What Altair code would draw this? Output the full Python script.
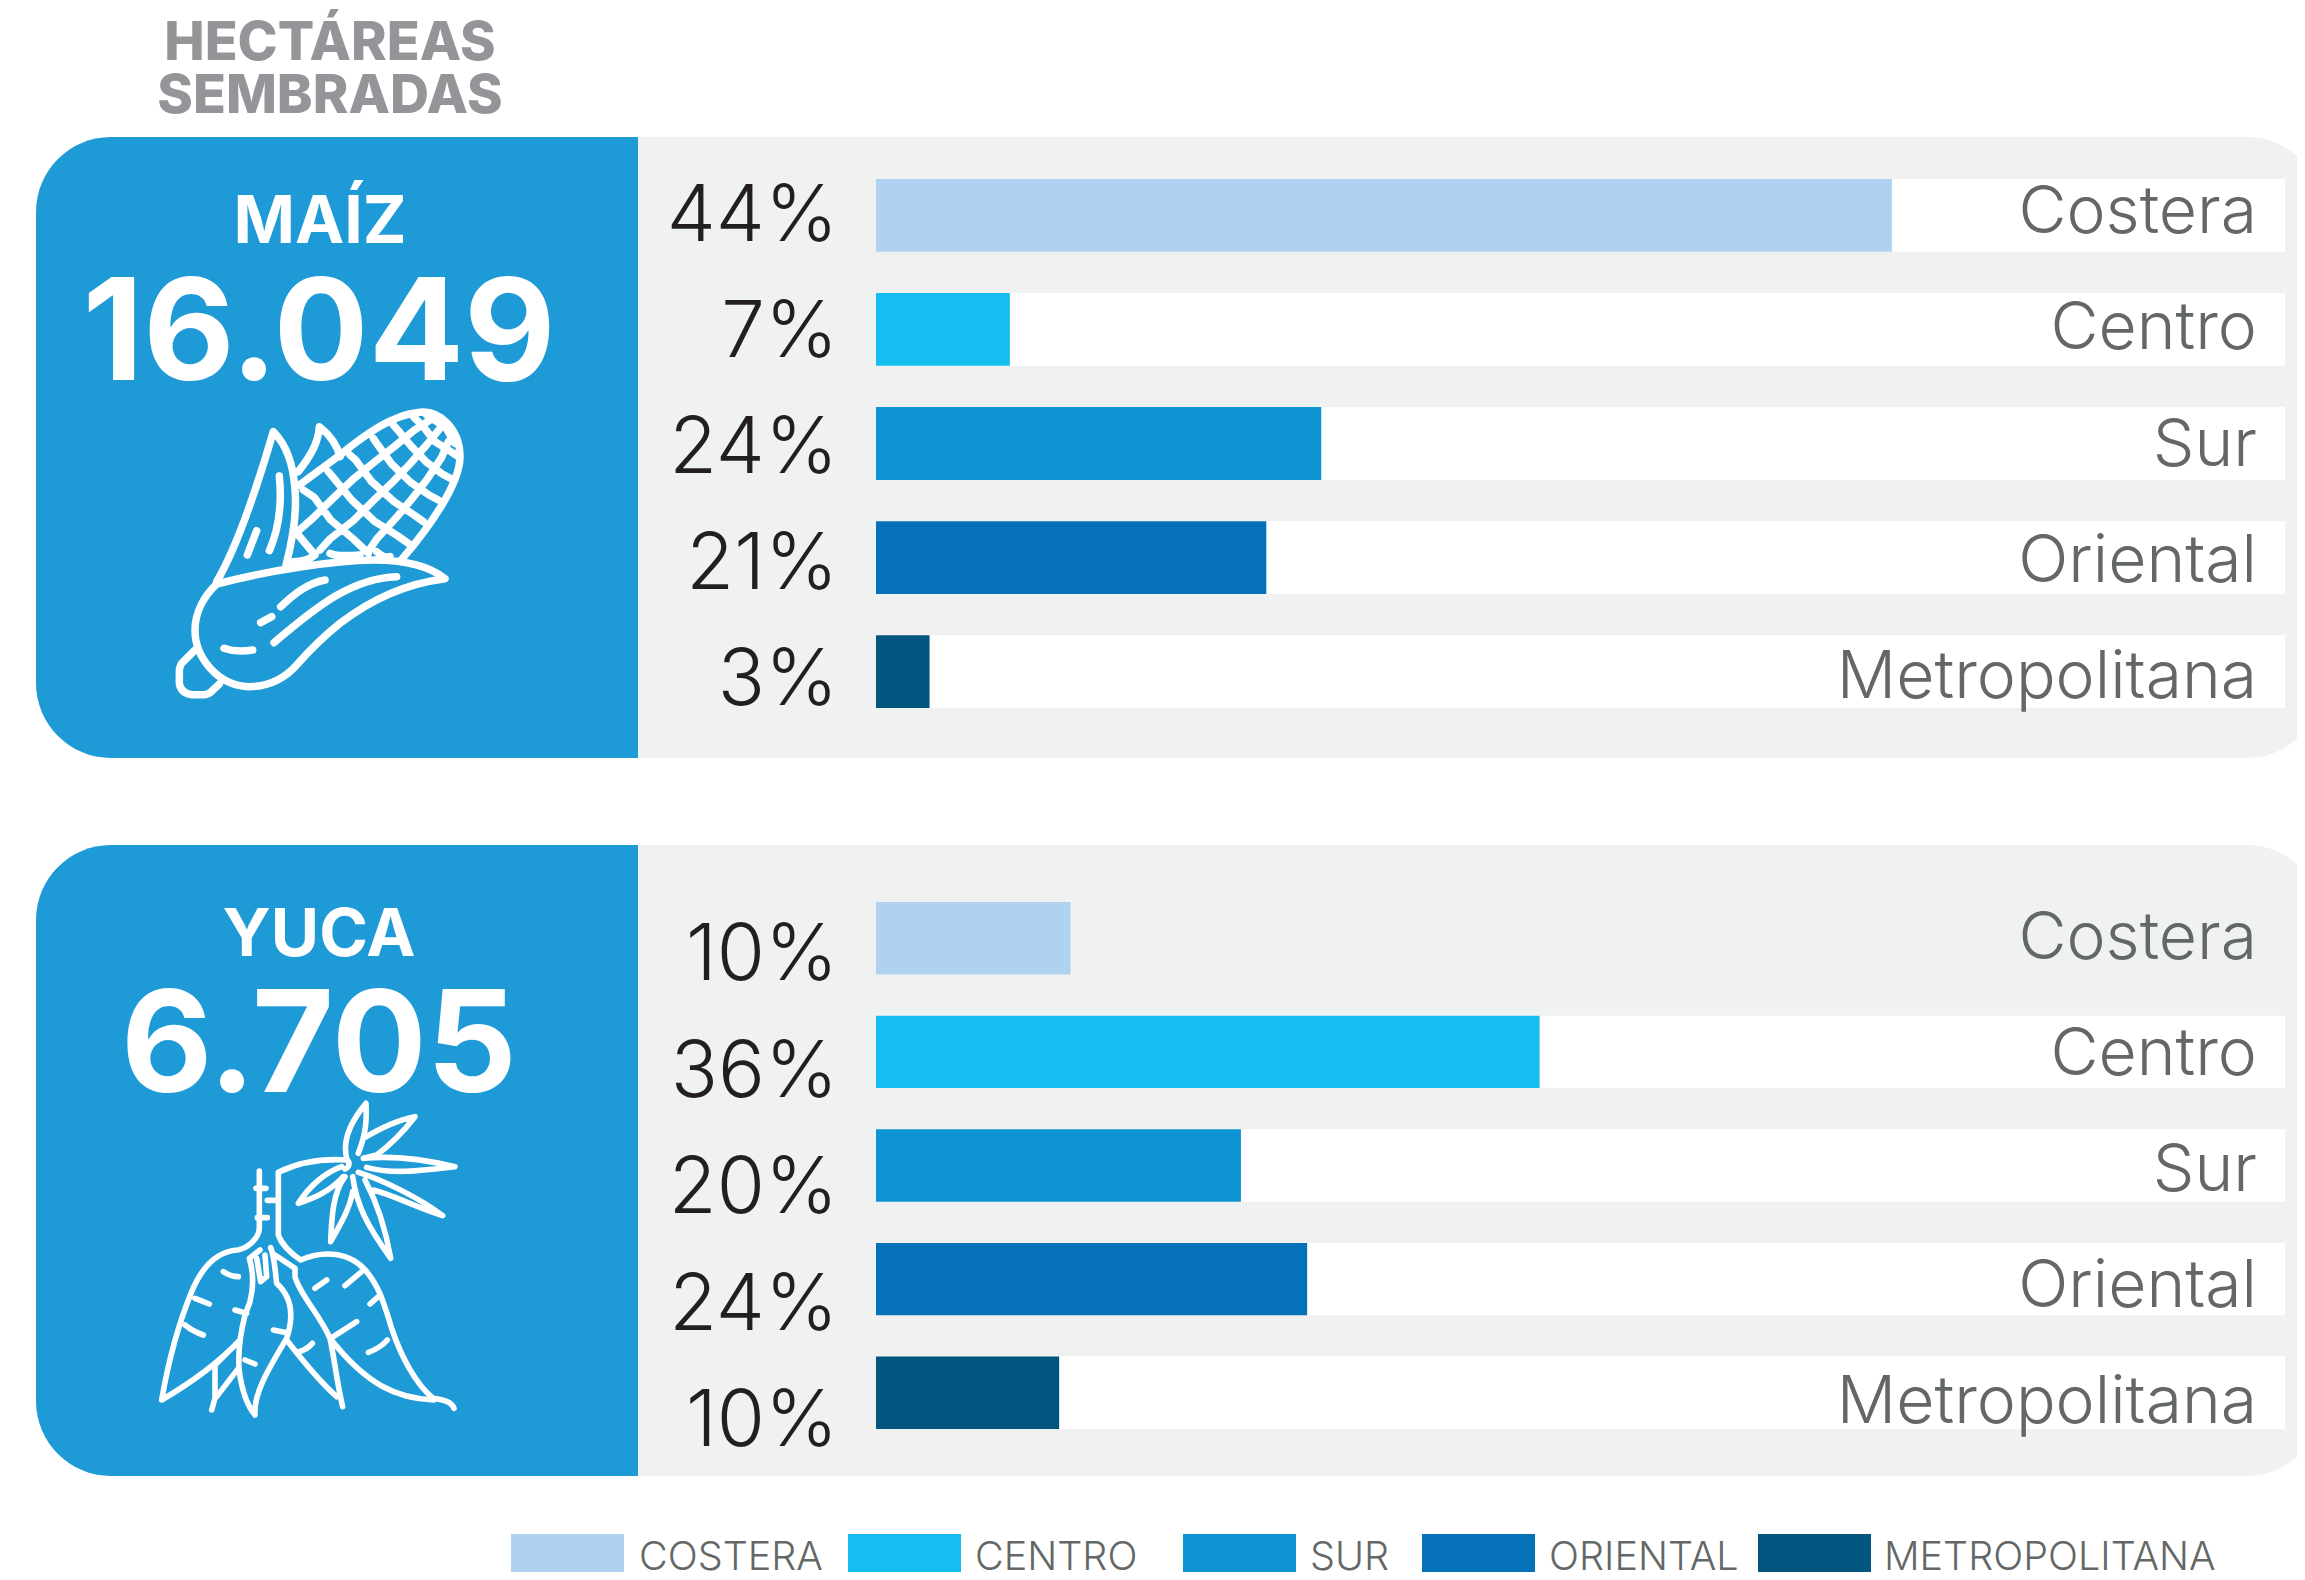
import altair as alt
import pandas as pd

# ---------- data ----------
REGIONS = ["Costera", "Centro", "Sur", "Oriental", "Metropolitana"]
LEGEND_LABELS = ["COSTERA", "CENTRO", "SUR", "ORIENTAL", "METROPOLITANA"]
COLORS = ["#AED2EF", "#16BDF0", "#0E93D3", "#0571B9", "#01557F"]
MAIZ_LABELS = ["44%", "7%", "24%", "21%", "3%"]
YUCA_LABELS = ["10%", "36%", "20%", "24%", "10%"]
# Bar lengths as drawn in the reference (share of the white track, in %);
# the reference's bars are not proportional to their printed labels.
MAIZ_BARS = [72.1, 9.5, 31.6, 27.7, 3.8]
YUCA_BARS = [13.8, 47.1, 25.9, 30.6, 13.0]
YUCA_TRACKS = ["Centro", "Sur", "Oriental", "Metropolitana"]
MAIZ_TRACKS = REGIONS

# ---------- layout (page pixels) ----------
M = 8
def p(v):
    return v - M
def pr(a, b):
    return [p(a), p(b)]

FONT = "Inter"
BLUE = "#1E9AD6"
GRAY = "#F0F2F1"
TRACK_X = (876, 2285)
BAR_H_PAD = 0.362
LEG_X = [511, 848, 1183, 1422, 1758]
LEG_W = 113
LEG_TX = [639, 975, 1310, 1549, 1884]

CORN = " ".join([
    "M170 552 C330 510 520 482 640 480 C740 480 810 500 855 536 C760 548 650 585 540 670 C490 710 450 750 410 795 C370 840 320 860 265 860 C170 855 105 770 105 690 C105 640 130 590 170 552 Z",
    "M105 750 L70 785 Q58 795 58 815 L58 850 Q62 880 95 884 L130 884 Q145 884 155 874 L178 852",
    "M170 545 C220 460 280 300 340 95 C375 130 400 190 405 270 C412 350 395 430 378 495",
    "M415 215 C450 170 475 130 478 80 C510 105 530 130 540 170",
    "M418 255 L540 165 C620 100 700 45 770 38 C840 25 900 90 900 170 C900 250 810 380 725 478",
    "M418 390 L458 355 L517 297 L580 237 L642 187 L705 138 L762 91 L810 60",
    "M480 450 L512 415 L580 362 L640 302 L697 247 L750 192 L802 132 L840 85",
    "M625 455 L650 417 L707 355 L757 295 L802 237 L845 172 L865 125",
    "M430 270 L463 292 L512 360 L580 417 L625 460",
    "M505 215 L522 235 L575 300 L645 365 L712 407 L745 430",
    "M570 165 L587 180 L635 245 L702 305 L762 345 L790 365",
    "M640 115 L652 133 L695 192 L752 247 L807 285 L835 300",
    "M700 75 L715 92 L752 137 L800 187 L847 222 L880 240",
    "M760 50 L790 80 L825 125 L865 150 L895 170",
    "M800 45 L870 90 M850 70 L885 130",
    "M415 405 L465 465 Q440 485 400 485",
    "M510 460 Q530 470 600 465 M650 455 Q670 475 690 470",
    "M358 228 C365 300 360 380 328 452",
    "M290 392 L262 465",
    "M495 540 C440 550 400 585 362 620",
    "M710 530 C580 535 480 610 342 728",
    "M335 650 L302 668",
    "M192 745 C220 755 250 755 278 750",
])

YUCA_ICON = " ".join([
    "M328 228 L328 400 C328 430 290 462 262 465 C190 470 150 530 125 590 C80 700 55 800 35 915 C120 865 200 810 270 735",
    "M318 280 L348 280 M352 316 L385 316 M322 368 L352 368",
    "M385 232 L385 420 C395 450 430 480 452 495 C520 465 600 470 650 530 C690 580 700 620 725 700 C755 790 800 870 850 910 C880 915 905 920 912 940",
    "M850 915 C740 910 650 870 540 730",
    "M385 232 C440 205 510 190 590 195 C600 200 600 215 585 222",
    "M590 190 C575 130 610 70 648 25 C650 70 650 110 625 175",
    "M640 130 C690 100 740 75 795 65 C760 110 720 150 680 180 L640 190",
    "M640 190 C740 180 830 195 915 215 C830 225 730 240 650 217",
    "M625 232 C700 255 810 310 878 362 C780 330 730 300 670 285",
    "M608 245 C620 330 650 390 722 490 C710 420 690 340 645 255",
    "M585 245 C550 290 545 360 542 440 C570 390 600 340 608 290",
    "M575 215 C530 230 480 270 445 325 C490 310 540 290 580 245",
    "M330 465 L298 490 C310 530 310 580 300 620 L285 660 C275 700 262 770 268 830 C275 880 290 930 315 960 C310 900 350 830 410 730 C430 670 430 610 380 565 C375 530 375 490 362 458",
    "M320 490 L332 560 L350 545 L345 480",
    "M375 480 L435 520 L435 545 C450 600 510 660 540 730 C555 800 560 860 578 935",
    "M410 735 C460 800 510 860 560 905",
    "M195 810 L195 910 L185 945 M265 820 L200 905 M195 810 L270 735",
    "M220 530 C235 540 245 545 265 545 M135 610 L178 627 M105 690 Q130 710 160 720",
    "M255 645 L290 655 M370 705 L410 713 M285 795 L315 807 M445 770 Q470 765 487 745",
    "M495 580 L530 555 M585 572 L635 530 M660 627 L685 605 M550 725 L620 680 M655 772 Q690 760 712 735",
])

one = pd.DataFrame({"k": [0]})
region_color = alt.Color("region:N", scale=alt.Scale(domain=REGIONS, range=COLORS), legend=None)


def panel(top, bottom):
    blue = alt.Chart(one).mark_rect(fill=BLUE, cornerRadiusTopLeft=75, cornerRadiusBottomLeft=75).encode(
        x=alt.value(p(36)), x2=alt.value(p(638)), y=alt.value(p(top)), y2=alt.value(p(bottom)))
    gray = alt.Chart(one).mark_rect(fill=GRAY, cornerRadiusTopRight=75, cornerRadiusBottomRight=75).encode(
        x=alt.value(p(638)), x2=alt.value(p(2322)), y=alt.value(p(top)), y2=alt.value(p(bottom)))
    return [gray, blue]


def rows(tracks, bars, labels, band, pct_range, name_range):
    y_band = alt.Y("region:N", axis=None, scale=alt.Scale(
        type="band", domain=REGIONS, range=pr(*band), paddingInner=BAR_H_PAD, paddingOuter=0))
    df = pd.DataFrame({"region": REGIONS, "bar": bars, "label": labels})
    track = alt.Chart(pd.DataFrame({"region": tracks})).mark_rect(fill="white").encode(
        y=y_band, x=alt.value(p(TRACK_X[0])), x2=alt.value(p(TRACK_X[1])))
    bar = alt.Chart(df).mark_bar().encode(
        y=y_band,
        x=alt.X("bar:Q", axis=None, scale=alt.Scale(domain=[0, 100], range=pr(*TRACK_X))),
        color=region_color)
    pct = alt.Chart(df).mark_text(font=FONT, fontWeight=300, fontSize=78, align="right",
                                  baseline="alphabetic", color="#231F20").encode(
        y=alt.Y("region:N", axis=None, scale=alt.Scale(type="point", domain=REGIONS, range=pr(*pct_range), padding=0)),
        x=alt.value(p(838)), text="label:N")
    name = alt.Chart(df).mark_text(font=FONT, fontWeight=300, fontSize=66, align="right",
                                   baseline="alphabetic", color="#636766").encode(
        y=alt.Y("region:N", axis=None, scale=alt.Scale(type="point", domain=REGIONS, range=pr(*name_range), padding=0)),
        x=alt.value(p(2257)), text="region:N")
    return [track, bar, pct, name]


def label(text, cx, base, size, color="white", weight=700):
    return alt.Chart(pd.DataFrame({"t": [text]})).mark_text(
        font=FONT, fontWeight=weight, fontSize=size, align="center", baseline="alphabetic", color=color
    ).encode(x=alt.value(p(cx)), y=alt.value(p(base)), text="t:N")


def icon(path, ox, oy, width):
    return alt.Chart(one).mark_point(
        shape=path, size=4 / 9, filled=False, stroke="white", strokeWidth=width,
        strokeCap="round", strokeJoin="round", opacity=1
    ).encode(x=alt.value(p(ox)), y=alt.value(p(oy)))


legend_df = pd.DataFrame({
    "region": REGIONS, "text": LEGEND_LABELS,
    "x": [p(v) for v in LEG_X], "x2": [p(v + LEG_W) for v in LEG_X], "tx": [p(v) for v in LEG_TX],
})
legend_swatch = alt.Chart(legend_df).mark_rect().encode(
    x=alt.X("x:Q", scale=None, axis=None), x2="x2:Q",
    y=alt.value(p(1534)), y2=alt.value(p(1580)), color=region_color)
legend_text = alt.Chart(legend_df).mark_text(
    font=FONT, fontWeight=300, fontSize=39.5, align="left", baseline="alphabetic", color="#636766"
).encode(x=alt.X("tx:Q", scale=None, axis=None), y=alt.value(p(1570)), text="text:N")

layers = (
    [label("HECTÁREAS", 330, 60, 54, "#939598", 800), label("SEMBRADAS", 330, 113, 54, "#939598", 800)]
    + panel(137, 758)
    + rows(MAIZ_TRACKS, MAIZ_BARS, MAIZ_LABELS, (179, 708), (241, 705), (233, 698))
    + [label("MAÍZ", 320, 243, 66), label("16.049", 319, 380, 141), icon(CORN, 160, 400, 7.5)]
    + panel(845, 1476)
    + rows(YUCA_TRACKS, YUCA_BARS, YUCA_LABELS, (902, 1429), (980, 1446), (959, 1423))
    + [label("YUCA", 319, 956, 66), label("6.705", 319, 1092, 141), icon(YUCA_ICON, 150, 1095, 5.6)]
    + [legend_swatch, legend_text]
)

chart = alt.layer(*layers).resolve_scale(x="independent", y="independent", color="independent").properties(
    width=2289, height=1564, padding=0, autosize=alt.AutoSizeParams(type="none")
).configure_view(stroke=None)

chart.save("out.html", embed_options={"renderer": "svg", "actions": False})
